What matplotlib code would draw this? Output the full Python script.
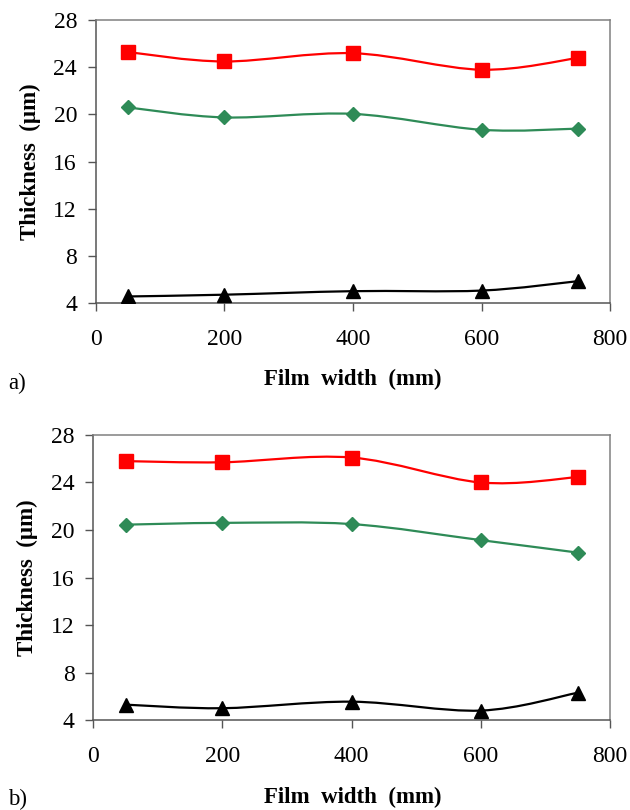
import matplotlib.pyplot as plt
import numpy as np
from matplotlib.path import Path
from matplotlib.patches import PathPatch

plt.rcParams['font.family'] = ['Liberation Serif', 'DejaVu Serif']

width = [50, 200, 400, 600, 750]

red_a = [25.3, 24.5, 25.2, 23.8, 24.8]
green_a = [20.6, 19.75, 20.05, 18.7, 18.8]
black_a = [4.55, 4.7, 5.0, 5.05, 5.85]

red_b = [25.8, 25.7, 26.1, 24.0, 24.45]
green_b = [20.45, 20.6, 20.5, 19.15, 18.1]
black_b = [5.3, 5.0, 5.55, 4.8, 6.3]


def smooth_line(ax, x, y, color):
    # Excel style smoothed line: bezier segments through the points
    p = np.column_stack([x, y]).astype(float)
    n = len(p)
    verts = [p[0]]
    codes = [Path.MOVETO]
    for i in range(n - 1):
        p0 = p[i - 1] if i > 0 else p[i]
        p3 = p[i + 2] if i + 2 < n else p[i + 1]
        c1 = p[i] + (p[i + 1] - p0) / 6
        c2 = p[i + 1] - (p3 - p[i]) / 6
        verts += [c1, c2, p[i + 1]]
        codes += [Path.CURVE4] * 3
    ax.add_patch(PathPatch(Path(verts, codes), fill=False, edgecolor=color,
                           lw=1.6, zorder=2))


def panel(ax, red, green, black):
    smooth_line(ax, width, red, '#ff0000')
    smooth_line(ax, width, green, '#2e8b57')
    smooth_line(ax, width, black, 'black')
    ax.plot(width, red, 's', color='#ff0000', ms=9.5, zorder=3)
    ax.plot(width, green, 'D', color='#2e8b57', ms=7.5, zorder=3)
    ax.plot(width, black, '^', color='black', ms=9.5, zorder=3)
    ax.set_xlim(0, 800)
    ax.set_ylim(4, 28)
    ax.set_xticks(np.arange(0, 801, 200))
    ax.set_yticks(np.arange(4, 29, 4))
    ax.tick_params(direction='out', length=5.5, width=1, labelsize=17,
                   color='#555555')
    ax.tick_params(axis='y', pad=8)
    ax.tick_params(axis='x', pad=13)
    for s in ['top', 'right']:
        ax.spines[s].set_color('#808080')
    for s in ['left', 'bottom']:
        ax.spines[s].set_color('#555555')
    for s in ax.spines.values():
        s.set_linewidth(1.1)
    ax.set_ylabel('Thickness  (µm)', fontsize=16.5, fontweight='bold',
                  labelpad=9)


fig = plt.figure(figsize=(6.3, 8.1), dpi=100)
ax1 = fig.add_axes([0.152, 0.626, 0.8165, 0.349])
ax2 = fig.add_axes([0.148, 0.111, 0.82, 0.352])

panel(ax1, red_a, green_a, black_a)
panel(ax2, red_b, green_b, black_b)

fig.text(0.56, 0.531, 'Film  width  (mm)', ha='center', va='center',
         fontsize=16.5, fontweight='bold')
fig.text(0.013, 0.526, 'a)', ha='left', va='center', fontsize=16.5)
fig.text(0.56, 0.016, 'Film  width  (mm)', ha='center', va='center',
         fontsize=16.5, fontweight='bold')
fig.text(0.013, 0.0136, 'b)', ha='left', va='center', fontsize=16.5)

fig.savefig('out.png', dpi=100)
